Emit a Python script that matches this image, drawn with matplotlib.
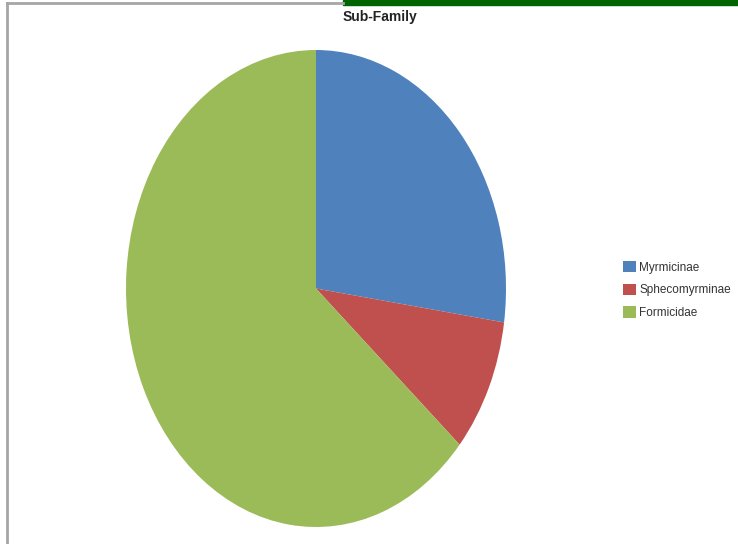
import matplotlib.pyplot as plt
from matplotlib.patches import Rectangle
from matplotlib.lines import Line2D

labels = ['Myrmicinae', 'Sphecomyrminae', 'Formicidae']
values = [3, 1, 7]
colors = ['#4F81BD', '#C0504D', '#9BBB59']

W, H = 738, 544
fig = plt.figure(figsize=(W / 100, H / 100), dpi=100)
plt.rcParams['font.family'] = ['Liberation Sans', 'DejaVu Sans']

# chart frame (only top/left edges visible in the crop) and green strip on top
fig.add_artist(Line2D([7 / W, 7 / W], [0, 1 - 3 / H], color='#A6A6A6', lw=2,
                      transform=fig.transFigure))
fig.add_artist(Line2D([7 / W, 343 / W], [1 - 3 / H, 1 - 3 / H], color='#A6A6A6', lw=2,
                      transform=fig.transFigure))
fig.add_artist(Rectangle((343 / W, 1 - 5 / H), (W - 343) / W, 5 / H, color='#006400',
                         transform=fig.transFigure))

# pie is drawn as an ellipse, so the axes box is stretched
ax = fig.add_axes([126 / W, 17 / H, 380 / W, 477 / H])
wedges, _ = ax.pie(values, colors=colors, startangle=90, counterclock=False,
                   radius=1, wedgeprops=dict(linewidth=0))
ax.set_aspect('auto')
ax.set_xlim(-1, 1)
ax.set_ylim(-1, 1)

fig.text(380 / W, 1 - 17 / H, 'Sub-Family', ha='center', va='center',
         fontsize=10, fontweight='bold', color='#222222')

fig.legend(wedges, labels, loc='center left', bbox_to_anchor=(617 / W, 1 - 290 / H),
           frameon=False, fontsize=8.5, handlelength=1.1, handleheight=1.1,
           handletextpad=0.3, labelspacing=0.85, borderpad=0,
           labelcolor='#333333')

fig.savefig('out.png', dpi=100)
